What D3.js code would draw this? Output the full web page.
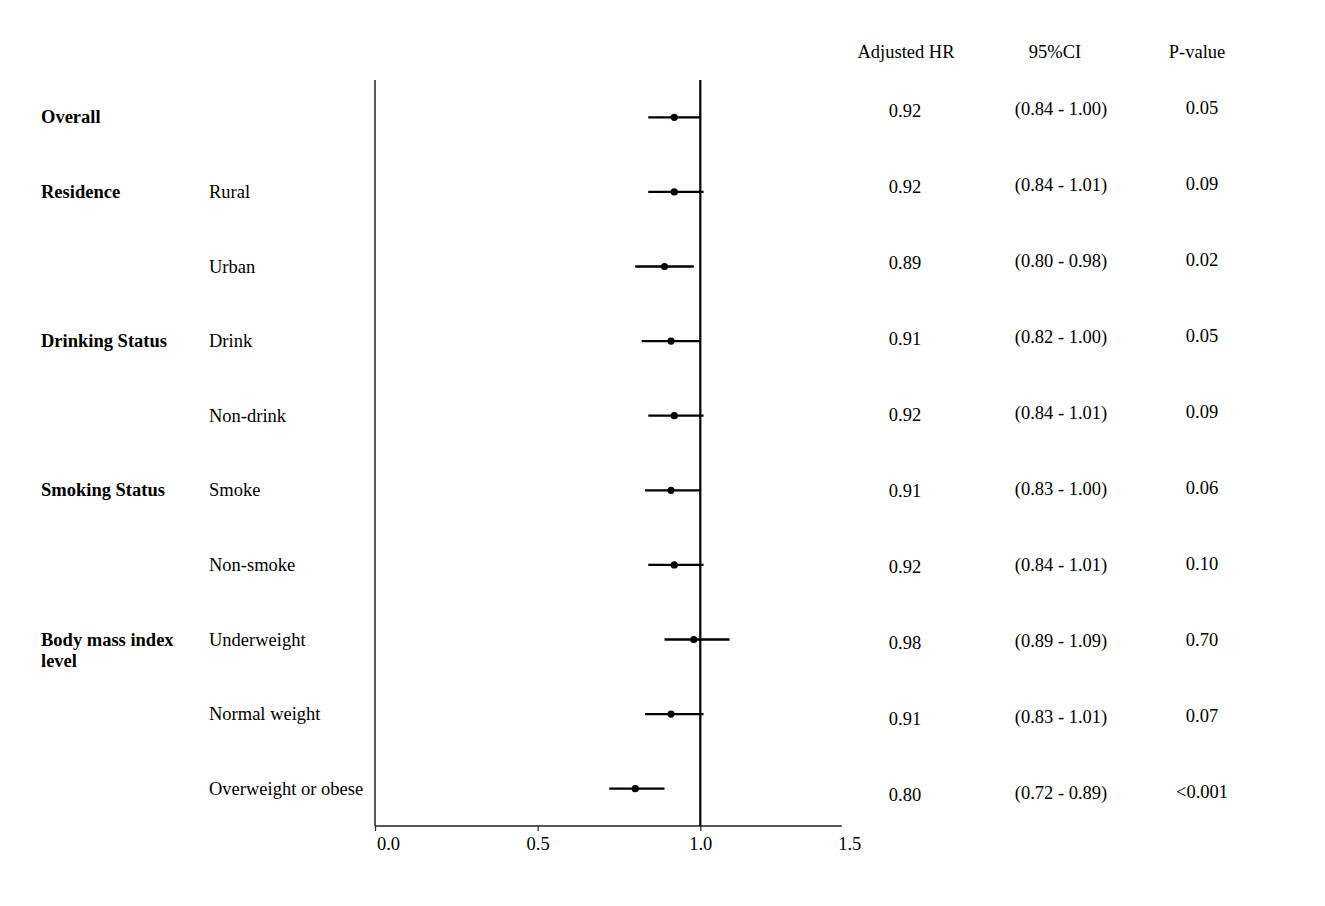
<!DOCTYPE html>
<html>
<head>
<meta charset="utf-8">
<script src="https://cdn.jsdelivr.net/npm/d3@7"></script>
<style>
  body { margin: 0; background: #fff; }
  text { font-family: "Liberation Serif", "Times New Roman", serif; fill: #000; }
</style>
</head>
<body>
<svg id="chart" width="1325" height="906"></svg>
<script>
// Rows of the forest plot
var groups = ["Overall", "Residence", "", "Drinking Status", "", "Smoking Status", "", "Body mass index level", "", ""];
var subgroups = ["", "Rural", "Urban", "Drink", "Non-drink", "Smoke", "Non-smoke", "Underweight", "Normal weight", "Overweight or obese"];
var hr = [0.92, 0.92, 0.89, 0.91, 0.92, 0.91, 0.92, 0.98, 0.91, 0.80];
var lower = [0.84, 0.84, 0.80, 0.82, 0.84, 0.83, 0.84, 0.89, 0.83, 0.72];
var upper = [1.00, 1.01, 0.98, 1.00, 1.01, 1.00, 1.01, 1.09, 1.01, 0.89];
var pvals = ["0.05", "0.09", "0.02", "0.05", "0.09", "0.06", "0.10", "0.70", "0.07", "<0.001"];
var xTicks = [0, 0.5, 1.0, 1.5];
var headers = ["Adjusted HR", "95%CI", "P-value"];

var rows = d3.range(hr.length);
var fontSize = 18.5;

var svg = d3.select("#chart");

// Scales
var x = d3.scaleLinear().domain([0, 1]).range([375, 700.3]);
var xMax = 1.435;
var y = d3.scalePoint().domain(rows).range([80, 826]).padding(0.5);
var yTable = d3.scalePoint().domain(rows).range([78.5, 838.5]).padding(0.5);

// Left axis line
svg.append("line")
  .attr("x1", x(0)).attr("x2", x(0))
  .attr("y1", 80).attr("y2", 826)
  .style("stroke", "#222")
  .style("stroke-width", 1.5);

// Bottom axis
var xAxis = d3.axisBottom(x)
  .tickValues(xTicks.filter(function (d) { return d <= xMax; }))
  .tickSize(5)
  .tickSizeOuter(0)
  .tickFormat(d3.format(".1f"));

var axisG = svg.append("g")
  .attr("transform", "translate(0,826)")
  .call(xAxis);
axisG.select(".domain").remove();
axisG.append("line")
  .attr("x1", x(0)).attr("x2", x(xMax))
  .style("stroke", "#222")
  .style("stroke-width", 1.5);
axisG.selectAll(".tick line").style("stroke", "#222").style("stroke-width", 1.2);
axisG.selectAll(".tick text")
  .attr("y", 0)
  .attr("dy", 24)
  .attr("dx", function (d) { return d === 0 ? 13 : 0; })
  .style("font-family", "Liberation Serif")
  .style("font-size", fontSize + "px")
  .style("fill", "#000");

// 1.5 label sits past the end of the axis line
axisG.append("text")
  .attr("x", x(xMax) + 8)
  .attr("y", 24)
  .attr("text-anchor", "middle")
  .style("font-size", fontSize + "px")
  .text(d3.format(".1f")(1.5));

// Reference line at HR = 1
svg.append("line")
  .attr("x1", x(1)).attr("x2", x(1))
  .attr("y1", 80).attr("y2", 826)
  .style("stroke", "#000")
  .style("stroke-width", 2.2);

// Confidence intervals
svg.selectAll("line.ci")
  .data(rows)
  .enter()
  .append("line")
  .attr("class", "ci")
  .attr("x1", function (i) { return x(lower[i]); })
  .attr("x2", function (i) { return x(upper[i]); })
  .attr("y1", function (i) { return y(i); })
  .attr("y2", function (i) { return y(i); })
  .style("stroke", "#000")
  .style("stroke-width", 2.3);

// Point estimates
svg.selectAll("circle")
  .data(rows)
  .enter()
  .append("circle")
  .attr("cx", function (i) { return x(hr[i]); })
  .attr("cy", function (i) { return y(i); })
  .attr("r", 3.6)
  .style("fill", "#000");

// Group labels (bold, wrapped)
var groupText = svg.selectAll("text.group")
  .data(rows.filter(function (i) { return groups[i] !== ""; }))
  .enter()
  .append("text")
  .attr("class", "group")
  .attr("x", 41)
  .attr("y", function (i) { return y(i) + 6; })
  .style("font-size", fontSize + "px")
  .style("font-weight", "bold");

groupText.each(function (i) {
  var t = d3.select(this);
  var label = groups[i];
  var lines = label === "Body mass index level" ? ["Body mass index", "level"] : [label];
  lines.forEach(function (l, k) {
    t.append("tspan")
      .attr("x", 41)
      .attr("dy", k === 0 ? 0 : 21)
      .text(l);
  });
});

// Subgroup labels
svg.selectAll("text.sub")
  .data(rows.filter(function (i) { return subgroups[i] !== ""; }))
  .enter()
  .append("text")
  .attr("class", "sub")
  .attr("x", 209)
  .attr("y", function (i) { return y(i) + 6; })
  .style("font-size", fontSize + "px")
  .text(function (i) { return subgroups[i]; });

// Table headers
var colX = [905, 1061, 1202];
var headerX = [906, 1055, 1197];
svg.selectAll("text.header")
  .data(headers)
  .enter()
  .append("text")
  .attr("class", "header")
  .attr("x", function (d, k) { return headerX[k]; })
  .attr("y", 58)
  .attr("text-anchor", "middle")
  .style("font-size", fontSize + "px")
  .text(function (d) { return d; });

// Table values
var fmt = d3.format(".2f");
var columns = [
  { get: function (i) { return fmt(hr[i]); }, dy: 0 },
  { get: function (i) { return "(" + fmt(lower[i]) + " - " + fmt(upper[i]) + ")"; }, dy: -1.5 },
  { get: function (i) { return pvals[i]; }, dy: -3 }
];

columns.forEach(function (c, k) {
  svg.selectAll("text.col" + k)
    .data(rows)
    .enter()
    .append("text")
    .attr("class", "col" + k)
    .attr("x", colX[k])
    .attr("y", function (i) { return yTable(i) + c.dy; })
    .attr("text-anchor", "middle")
    .style("font-size", fontSize + "px")
    .text(c.get);
});
</script>
</body>
</html>
